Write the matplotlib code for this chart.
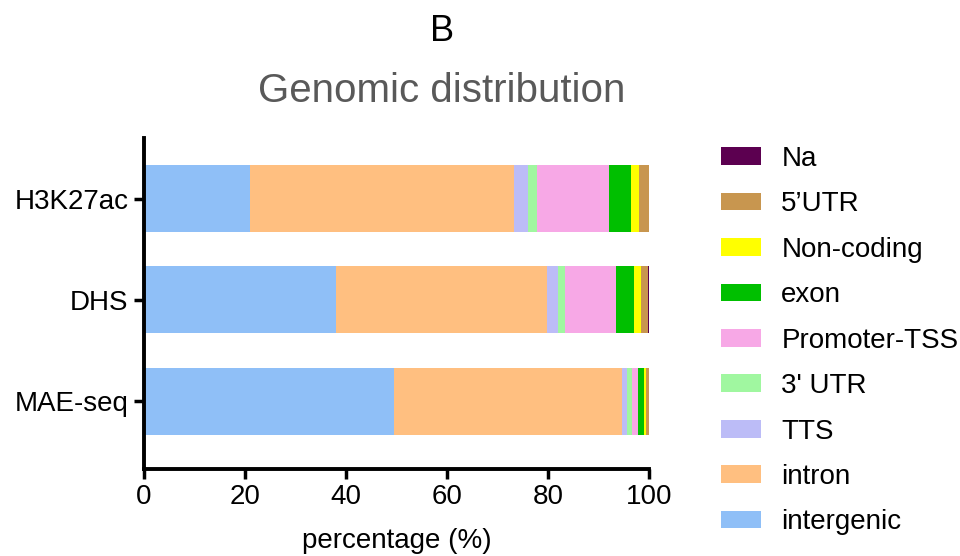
import matplotlib
matplotlib.use("Agg")
import matplotlib.pyplot as plt
import numpy as np

plt.rcParams['font.family'] = ['Liberation Sans', 'DejaVu Sans']

samples = ["MAE-seq", "DHS", "H3K27ac"]

# stacking order, left to right
features = ["intergenic", "intron", "TTS", "3' UTR", "Promoter-TSS",
            "exon", "Non-coding", "5\u2019UTR", "Na"]
colors = ["#8fbff7", "#ffbf80", "#bcbcf7", "#a0f7a0", "#f7a8e6",
          "#00bf00", "#ffff00", "#c8964f", "#5c0050"]

# percentage per feature, rows follow `samples`
intergenic = [49.5, 38.0, 21.0]
intron = [45.2, 41.9, 52.3]
tts = [0.9, 2.1, 2.8]
utr3 = [1.0, 1.4, 1.8]
promoter = [1.3, 10.0, 14.2]
exon = [1.2, 3.6, 4.3]
noncoding = [0.4, 1.4, 1.6]
utr5 = [0.5, 1.4, 2.0]
na = [0.0, 0.2, 0.0]

values = [intergenic, intron, tts, utr3, promoter, exon, noncoding, utr5, na]

fig = plt.figure(figsize=(9.6, 5.56), dpi=100)
ax = fig.add_axes([0.15, 0.1565, 0.526, 0.5955])

y = np.arange(len(samples))
left = np.zeros(len(samples))
handles = []
for name, col, vals in zip(features, colors, values):
    b = ax.barh(y, vals, left=left, height=0.66, color=col, label=name,
                linewidth=0)
    handles.append(b)
    left += np.array(vals)

ax.set_xlim(0, 100)
ax.set_ylim(-0.67, 2.6)
ax.set_yticks(y)
ax.set_yticklabels(samples)
ax.set_xticks([0, 20, 40, 60, 80, 100])
ax.tick_params(axis='both', labelsize=20, width=2.5, length=7, pad=4)
for s in ["top", "right"]:
    ax.spines[s].set_visible(False)
for s in ["left", "bottom"]:
    ax.spines[s].set_linewidth(2.8)
ax.set_xlabel("percentage (%)", fontsize=20, labelpad=13)

fig.text(0.46, 0.944, "B", fontsize=26, ha="center", va="center")
fig.text(0.46, 0.836, "Genomic distribution", fontsize=29, color="#595959",
         ha="center", va="center")

leg = fig.legend(handles[::-1], features[::-1], loc="upper left",
                 bbox_to_anchor=(0.7395, 0.7576), frameon=False, fontsize=20,
                 handlelength=1.45, handleheight=0.6, handletextpad=0.72,
                 labelspacing=0.70, borderaxespad=0)

fig.savefig("out.png", dpi=100)
